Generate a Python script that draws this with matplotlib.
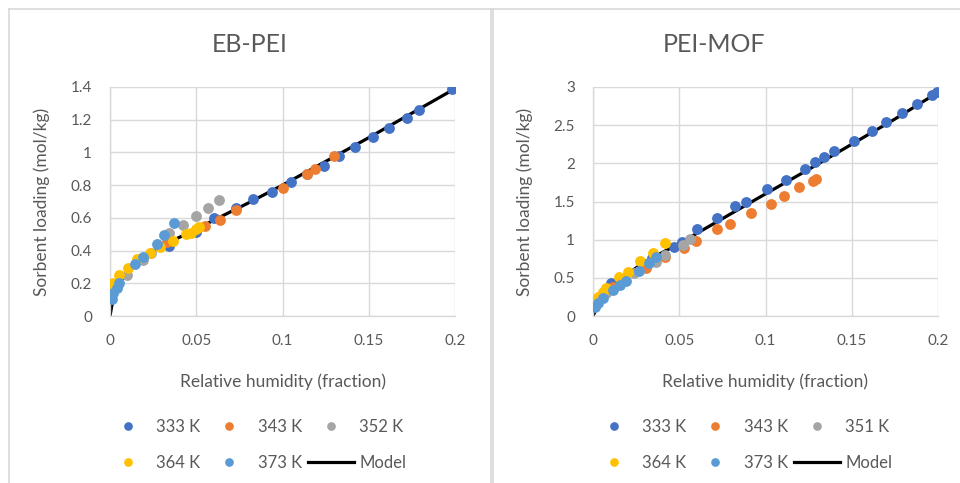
import matplotlib
matplotlib.use("Agg")
import matplotlib.pyplot as plt
from matplotlib.lines import Line2D
from matplotlib.ticker import FormatStrFormatter

plt.rcParams['font.family'] = ['Lato', 'DejaVu Sans']

TEXT = '#595959'
GRID = '#d9d9d9'
COLORS = {'333 K': '#4472C4', '343 K': '#ED7D31', '352 K': '#A5A5A5', '351 K': '#A5A5A5',
          '364 K': '#FFC000', '373 K': '#5B9BD5'}

# ---- EB-PEI measurements (relative humidity, loading mol/kg)
eb_333_x = [0.034, 0.050, 0.060, 0.073, 0.083, 0.094, 0.1047, 0.114, 0.124, 0.133,
            0.142, 0.1527, 0.162, 0.172, 0.179, 0.198]
eb_333_y = [0.43, 0.516, 0.598, 0.663, 0.716, 0.761, 0.82, 0.867, 0.916, 0.978,
            1.035, 1.093, 1.152, 1.209, 1.261, 1.388]
eb_343_x = [0.033, 0.055, 0.0637, 0.073, 0.1004, 0.1143, 0.119, 0.130]
eb_343_y = [0.45, 0.551, 0.588, 0.645, 0.783, 0.871, 0.898, 0.978]
eb_352_x = [0.0097, 0.019, 0.024, 0.034, 0.0425, 0.050, 0.057, 0.063]
eb_352_y = [0.251, 0.343, 0.384, 0.506, 0.557, 0.612, 0.663, 0.710]
eb_364_x = [0.0, 0.002, 0.0054, 0.0106, 0.0154, 0.023, 0.029, 0.0367, 0.044, 0.047, 0.050, 0.0515]
eb_364_y = [0.143, 0.2, 0.251, 0.292, 0.347, 0.388, 0.424, 0.461, 0.502, 0.51, 0.531, 0.547]
eb_373_x = [0.001, 0.002, 0.004, 0.005, 0.0145, 0.019, 0.027, 0.0315, 0.037]
eb_373_y = [0.102, 0.139, 0.169, 0.2, 0.316, 0.363, 0.44, 0.494, 0.567]
eb_model_x = [0, 0.001, 0.003, 0.006, 0.01, 0.015, 0.02, 0.03, 0.04, 0.05, 0.06, 0.08,
              0.1, 0.125, 0.15, 0.175, 0.2]
eb_model_y = [0, 0.06, 0.14, 0.21, 0.27, 0.32, 0.36, 0.43, 0.48, 0.53, 0.585, 0.69,
              0.80, 0.945, 1.09, 1.24, 1.39]

# ---- PEI-MOF measurements
mof_333_x = [0.0107, 0.034, 0.047, 0.0514, 0.060, 0.072, 0.0824, 0.0887, 0.101, 0.112,
             0.123, 0.1287, 0.134, 0.1397, 0.1515, 0.162, 0.170, 0.179, 0.188, 0.1965, 0.1994]
mof_333_y = [0.429, 0.757, 0.91, 0.967, 1.137, 1.282, 1.435, 1.492, 1.662, 1.785,
             1.929, 2.012, 2.078, 2.165, 2.287, 2.43, 2.54, 2.658, 2.78, 2.89, 2.93]
mof_343_x = [0.0116, 0.031, 0.042, 0.0527, 0.0597, 0.072, 0.0795, 0.0915, 0.103, 0.111,
             0.1194, 0.1277, 0.129]
mof_343_y = [0.385, 0.626, 0.779, 0.897, 0.984, 1.137, 1.207, 1.347, 1.47, 1.575,
             1.684, 1.772, 1.794]
mof_351_x = [0.0074, 0.024, 0.0364, 0.042, 0.052, 0.056]
mof_351_y = [0.297, 0.569, 0.713, 0.80, 0.932, 1.006]
mof_364_x = [0.001, 0.003, 0.006, 0.0078, 0.015, 0.020, 0.0275, 0.035, 0.0417]
mof_364_y = [0.21, 0.254, 0.32, 0.363, 0.516, 0.581, 0.726, 0.831, 0.954]
mof_373_x = [0.001, 0.003, 0.006, 0.0116, 0.0155, 0.019, 0.0267, 0.0324, 0.0368]
mof_373_y = [0.122, 0.166, 0.24, 0.341, 0.407, 0.464, 0.595, 0.70, 0.779]
mof_model_x = [0, 0.002, 0.005, 0.01, 0.015, 0.02, 0.03, 0.04, 0.05, 0.06, 0.08, 0.1,
               0.125, 0.15, 0.175, 0.2]
mof_model_y = [0, 0.1, 0.2, 0.34, 0.45, 0.55, 0.71, 0.83, 0.95, 1.08, 1.34, 1.60,
               1.92, 2.25, 2.58, 2.93]

W, H = 960, 483
fig = plt.figure(figsize=(W / 100, H / 100), dpi=100)


def fx(px):
    return px / W


def fy(py):
    return 1 - py / H


# chart area borders
for seg in [((9, 9), (9, H)), ((9, 9), (490.5, 9)), ((490.5, 9), (490.5, H)),
            ((492.5, 9), (492.5, H)), ((492.5, 9), (W, 9))]:
    (x0, y0), (x1, y1) = seg
    fig.add_artist(Line2D([fx(x0), fx(x1)], [fy(y0), fy(y1)], color=GRID, lw=1.2))


def panel(left_px, title, title_x, series, model, ymax, ystep, leg_x):
    ax = fig.add_axes([fx(left_px), fy(316), fx(345), 229 / H])
    ax.plot(model[0], model[1], color='black', lw=2.3, zorder=2, label='Model')
    handles = {}
    for label, xs, ys in series:
        h, = ax.plot(xs, ys, 'o', ms=7.8, color=COLORS[label], mec='none', zorder=3, label=label)
        handles[label] = h
    ax.set_xlim(0, 0.2)
    ax.set_ylim(0, ymax)
    ax.set_xticks([0, 0.05, 0.1, 0.15, 0.2])
    yt = [i * ystep for i in range(int(round(ymax / ystep)) + 1)]
    ax.set_yticks(yt)
    ax.xaxis.set_major_formatter(FormatStrFormatter('%g'))
    ax.yaxis.set_major_formatter(FormatStrFormatter('%g'))
    ax.tick_params(length=0, labelsize=11, labelcolor=TEXT, pad=13)
    ax.grid(True, color=GRID, lw=1.0)
    ax.set_axisbelow(True)
    for s in ['top', 'right']:
        ax.spines[s].set_visible(False)
    for s in ['left', 'bottom']:
        ax.spines[s].set_color(GRID)
        ax.spines[s].set_linewidth(1.0)
    # chart title is centred on the whole chart area, not the plot area
    fig.text(fx(title_x), fy(45), title, fontsize=18, color=TEXT, ha='center', va='center')
    ax.set_xlabel('Relative humidity (fraction)', fontsize=12.5, color=TEXT)
    ax.set_ylabel('Sorbent loading (mol/kg)', fontsize=12.5, color=TEXT)
    ax.xaxis.set_label_coords(0.5, (316 - 373) / 229)
    ax.yaxis.set_label_coords(-60 / 345, 0.5)

    labels = [s[0] for s in series]
    model_h = Line2D([], [], color='black', lw=2.3)
    order = [handles[labels[0]], handles[labels[3]], handles[labels[1]],
             handles[labels[4]], handles[labels[2]], model_h]
    names = [labels[0], labels[3], labels[1], labels[4], labels[2], 'Model']
    leg = ax.legend(order, names, ncol=3, loc='upper left',
                    bbox_to_anchor=(fx(leg_x), fy(419)), bbox_transform=fig.transFigure,
                    frameon=False, fontsize=12, handlelength=2.8, handletextpad=0.3,
                    columnspacing=0.35, labelspacing=1.2, borderpad=0, borderaxespad=0,
                    markerscale=0.8)
    for t in leg.get_texts():
        t.set_color(TEXT)
    return ax


panel(110, 'EB-PEI', 250,
      [('333 K', eb_333_x, eb_333_y), ('343 K', eb_343_x, eb_343_y),
       ('352 K', eb_352_x, eb_352_y), ('364 K', eb_364_x, eb_364_y),
       ('373 K', eb_373_x, eb_373_y)],
      (eb_model_x, eb_model_y), 1.4, 0.2, 104.5)
panel(593, 'PEI-MOF', 714,
      [('333 K', mof_333_x, mof_333_y), ('343 K', mof_343_x, mof_343_y),
       ('351 K', mof_351_x, mof_351_y), ('364 K', mof_364_x, mof_364_y),
       ('373 K', mof_373_x, mof_373_y)],
      (mof_model_x, mof_model_y), 3.0, 0.5, 590.5)

fig.savefig('out.png', dpi=100)
